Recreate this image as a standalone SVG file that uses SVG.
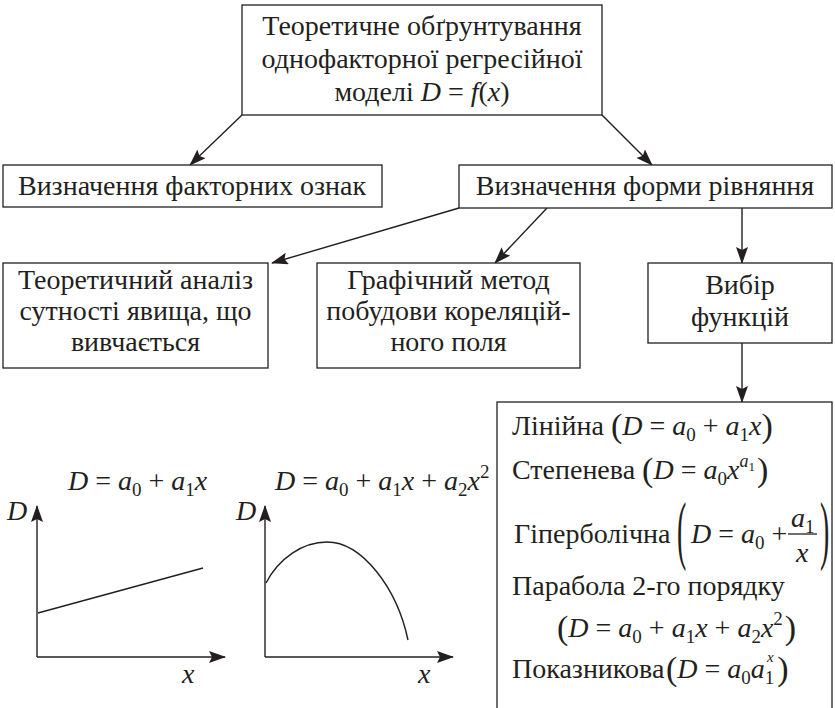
<svg xmlns="http://www.w3.org/2000/svg" width="835" height="708" viewBox="0 0 835 708" fill="#231f20">
<defs>
  <marker id="ah" markerWidth="17" markerHeight="12" refX="16" refY="6" orient="auto" markerUnits="userSpaceOnUse">
    <path d="M0,0 L17,6 L0,12 L3,6 z" fill="#231f20"/>
  </marker>
</defs>
<rect width="835" height="708" fill="#fff"/>

<g id="connectors" fill="none" stroke="#231f20" stroke-width="1.4">
  <line x1="242" y1="115" x2="190" y2="165" marker-end="url(#ah)"/>
  <line x1="602" y1="115" x2="652" y2="165" marker-end="url(#ah)"/>
  <line x1="459" y1="208" x2="272" y2="263" marker-end="url(#ah)"/>
  <line x1="547" y1="208" x2="495" y2="263" marker-end="url(#ah)"/>
  <line x1="742" y1="208" x2="742" y2="263" marker-end="url(#ah)"/>
  <line x1="742" y1="343" x2="742" y2="402" marker-end="url(#ah)"/>
</g>

<g id="n-top">
  <rect x="242" y="5" width="360" height="110" fill="#fff" stroke="#231f20" stroke-width="1.3"/>
  <text font-family="Liberation Serif" font-size="28" x="422" y="35" text-anchor="middle">Теоретичне обґрунтування</text>
  <text font-family="Liberation Serif" font-size="28" x="422" y="68" text-anchor="middle">однофакторної регресійної</text>
  <text font-family="Liberation Serif" font-size="28" x="422" y="101" text-anchor="middle">моделі  <tspan font-style="italic">D</tspan> = <tspan font-style="italic">f</tspan>(<tspan font-style="italic">x</tspan>)</text>
</g>

<g id="n-factors">
  <rect x="3" y="165" width="379" height="42" fill="#fff" stroke="#231f20" stroke-width="1.3"/>
  <text font-family="Liberation Serif" font-size="28" x="192" y="195" text-anchor="middle">Визначення факторних ознак</text>
</g>

<g id="n-form">
  <rect x="459" y="165" width="373" height="43" fill="#fff" stroke="#231f20" stroke-width="1.3"/>
  <text font-family="Liberation Serif" font-size="28" x="645" y="195" text-anchor="middle">Визначення форми рівняння</text>
</g>

<g id="n-theory">
  <rect x="3" y="263" width="265" height="105" fill="#fff" stroke="#231f20" stroke-width="1.3"/>
  <text font-family="Liberation Serif" font-size="28" x="135.5" y="289" text-anchor="middle">Теоретичний аналіз</text>
  <text font-family="Liberation Serif" font-size="28" x="135.5" y="320" text-anchor="middle">сутності явища, що</text>
  <text font-family="Liberation Serif" font-size="28" x="135.5" y="351" text-anchor="middle">вивчається</text>
</g>

<g id="n-graph">
  <rect x="317" y="263" width="263" height="105" fill="#fff" stroke="#231f20" stroke-width="1.3"/>
  <text font-family="Liberation Serif" font-size="28" x="448.5" y="289" text-anchor="middle">Графічний метод</text>
  <text font-family="Liberation Serif" font-size="28" x="448.5" y="320" text-anchor="middle">побудови кореляцій-</text>
  <text font-family="Liberation Serif" font-size="28" x="448.5" y="351" text-anchor="middle">ного поля</text>
</g>

<g id="n-choice">
  <rect x="648" y="263" width="184" height="80" fill="#fff" stroke="#231f20" stroke-width="1.3"/>
  <text font-family="Liberation Serif" font-size="28" x="740" y="294" text-anchor="middle">Вибір</text>
  <text font-family="Liberation Serif" font-size="28" x="740" y="326" text-anchor="middle">функцій</text>
</g>

<g id="n-functions">
  <rect x="497" y="402" width="335" height="320" fill="#fff" stroke="#231f20" stroke-width="1.3"/>
  <text font-family="Liberation Serif" font-size="28" x="512" y="435">Лінійна <tspan font-size="34" dy="2">(</tspan><tspan font-style="italic" dy="-2">D</tspan> = <tspan font-style="italic">a</tspan><tspan font-size="19" dy="6">0</tspan><tspan dy="-6"> + </tspan><tspan font-style="italic">a</tspan><tspan font-size="19" dy="6">1</tspan><tspan font-style="italic" dy="-6">x</tspan><tspan font-size="34" dy="2">)</tspan></text>
  <text font-family="Liberation Serif" font-size="28" x="512" y="479">Степенева <tspan font-size="34" dy="2">(</tspan><tspan font-style="italic" dy="-2">D</tspan> = <tspan font-style="italic">a</tspan><tspan font-size="19" dy="6">0</tspan><tspan font-style="italic" dy="-6">x</tspan><tspan font-style="italic" font-size="18" dy="-12">a</tspan><tspan font-size="13" dy="4">1</tspan><tspan font-size="34" dx="2" dy="10">)</tspan></text>
  <text font-family="Liberation Serif" font-size="28" x="514" y="543">Гіперболічна</text>
  <text font-family="Liberation Serif" font-size="28" transform="translate(677,555) scale(1,2.7)">(</text>
  <text font-family="Liberation Serif" font-size="28" x="691" y="543"><tspan font-style="italic">D</tspan> = <tspan font-style="italic">a</tspan><tspan font-size="19" dy="6">0</tspan><tspan dy="-6"> +</tspan></text>
  <text font-family="Liberation Serif" font-size="28" x="791" y="527"><tspan font-style="italic">a</tspan><tspan font-size="19" dy="6">1</tspan></text>
  <line x1="788" y1="534" x2="817" y2="534" stroke="#231f20" stroke-width="1.3"/>
  <text font-family="Liberation Serif" font-size="28" font-style="italic" x="796" y="562">x</text>
  <text font-family="Liberation Serif" font-size="28" transform="translate(820,555) scale(1,2.7)">)</text>
  <text font-family="Liberation Serif" font-size="28" x="512" y="595">Парабола 2-го порядку</text>
  <text font-family="Liberation Serif" font-size="28" x="557" y="637"><tspan font-size="34" dy="2">(</tspan><tspan font-style="italic" dy="-2">D</tspan> = <tspan font-style="italic">a</tspan><tspan font-size="19" dy="6">0</tspan><tspan dy="-6"> + </tspan><tspan font-style="italic">a</tspan><tspan font-size="19" dy="6">1</tspan><tspan font-style="italic" dy="-6">x</tspan> + <tspan font-style="italic">a</tspan><tspan font-size="19" dy="6">2</tspan><tspan font-style="italic" dy="-6">x</tspan><tspan font-size="19" dy="-12">2</tspan><tspan font-size="34" dx="2" dy="14">)</tspan></text>
  <text font-family="Liberation Serif" font-size="28" x="512" y="678">Показникова</text>
  <text font-family="Liberation Serif" font-size="28" x="666" y="678"><tspan font-size="34" dy="2">(</tspan><tspan font-style="italic" dy="-2">D</tspan> = <tspan font-style="italic">a</tspan><tspan font-size="19" dy="6">0</tspan><tspan font-style="italic" dy="-6">a</tspan><tspan font-size="19" dy="6">1</tspan><tspan font-size="34" dx="3" dy="-4">)</tspan></text>
  <text font-family="Liberation Serif" font-size="15" font-style="italic" x="767" y="662">x</text>
</g>

<g id="chart-linear">
  <text font-family="Liberation Serif" font-size="28" x="68" y="490"><tspan font-style="italic">D</tspan> = <tspan font-style="italic">a</tspan><tspan font-size="19" dy="6">0</tspan><tspan dy="-6"> + </tspan><tspan font-style="italic">a</tspan><tspan font-size="19" dy="6">1</tspan><tspan font-style="italic" dy="-6">x</tspan></text>
  <text font-family="Liberation Serif" font-size="28" font-style="italic" x="7" y="520">D</text>
  <g fill="none" stroke="#231f20" stroke-width="1.4">
    <line x1="37" y1="657" x2="37" y2="506" marker-end="url(#ah)"/>
    <line x1="37" y1="657" x2="225" y2="657" marker-end="url(#ah)"/>
    <line x1="38" y1="613" x2="203" y2="568"/>
  </g>
  <text font-family="Liberation Serif" font-size="28" font-style="italic" x="182" y="683">x</text>
</g>

<g id="chart-parabola">
  <text font-family="Liberation Serif" font-size="28" x="275" y="490"><tspan font-style="italic">D</tspan> = <tspan font-style="italic">a</tspan><tspan font-size="19" dy="6">0</tspan><tspan dy="-6"> + </tspan><tspan font-style="italic">a</tspan><tspan font-size="19" dy="6">1</tspan><tspan font-style="italic" dy="-6">x</tspan> + <tspan font-style="italic">a</tspan><tspan font-size="19" dy="6">2</tspan><tspan font-style="italic" dy="-6">x</tspan><tspan font-size="19" dy="-12">2</tspan></text>
  <text font-family="Liberation Serif" font-size="28" font-style="italic" x="236" y="520">D</text>
  <g fill="none" stroke="#231f20" stroke-width="1.4">
    <line x1="265" y1="657" x2="265" y2="506" marker-end="url(#ah)"/>
    <line x1="265" y1="657" x2="453" y2="657" marker-end="url(#ah)"/>
    <path d="M266,583 C279,558 303,542 327,542 C362,542 397,588 408,640"/>
  </g>
  <text font-family="Liberation Serif" font-size="28" font-style="italic" x="418" y="683">x</text>
</g>
</svg>
